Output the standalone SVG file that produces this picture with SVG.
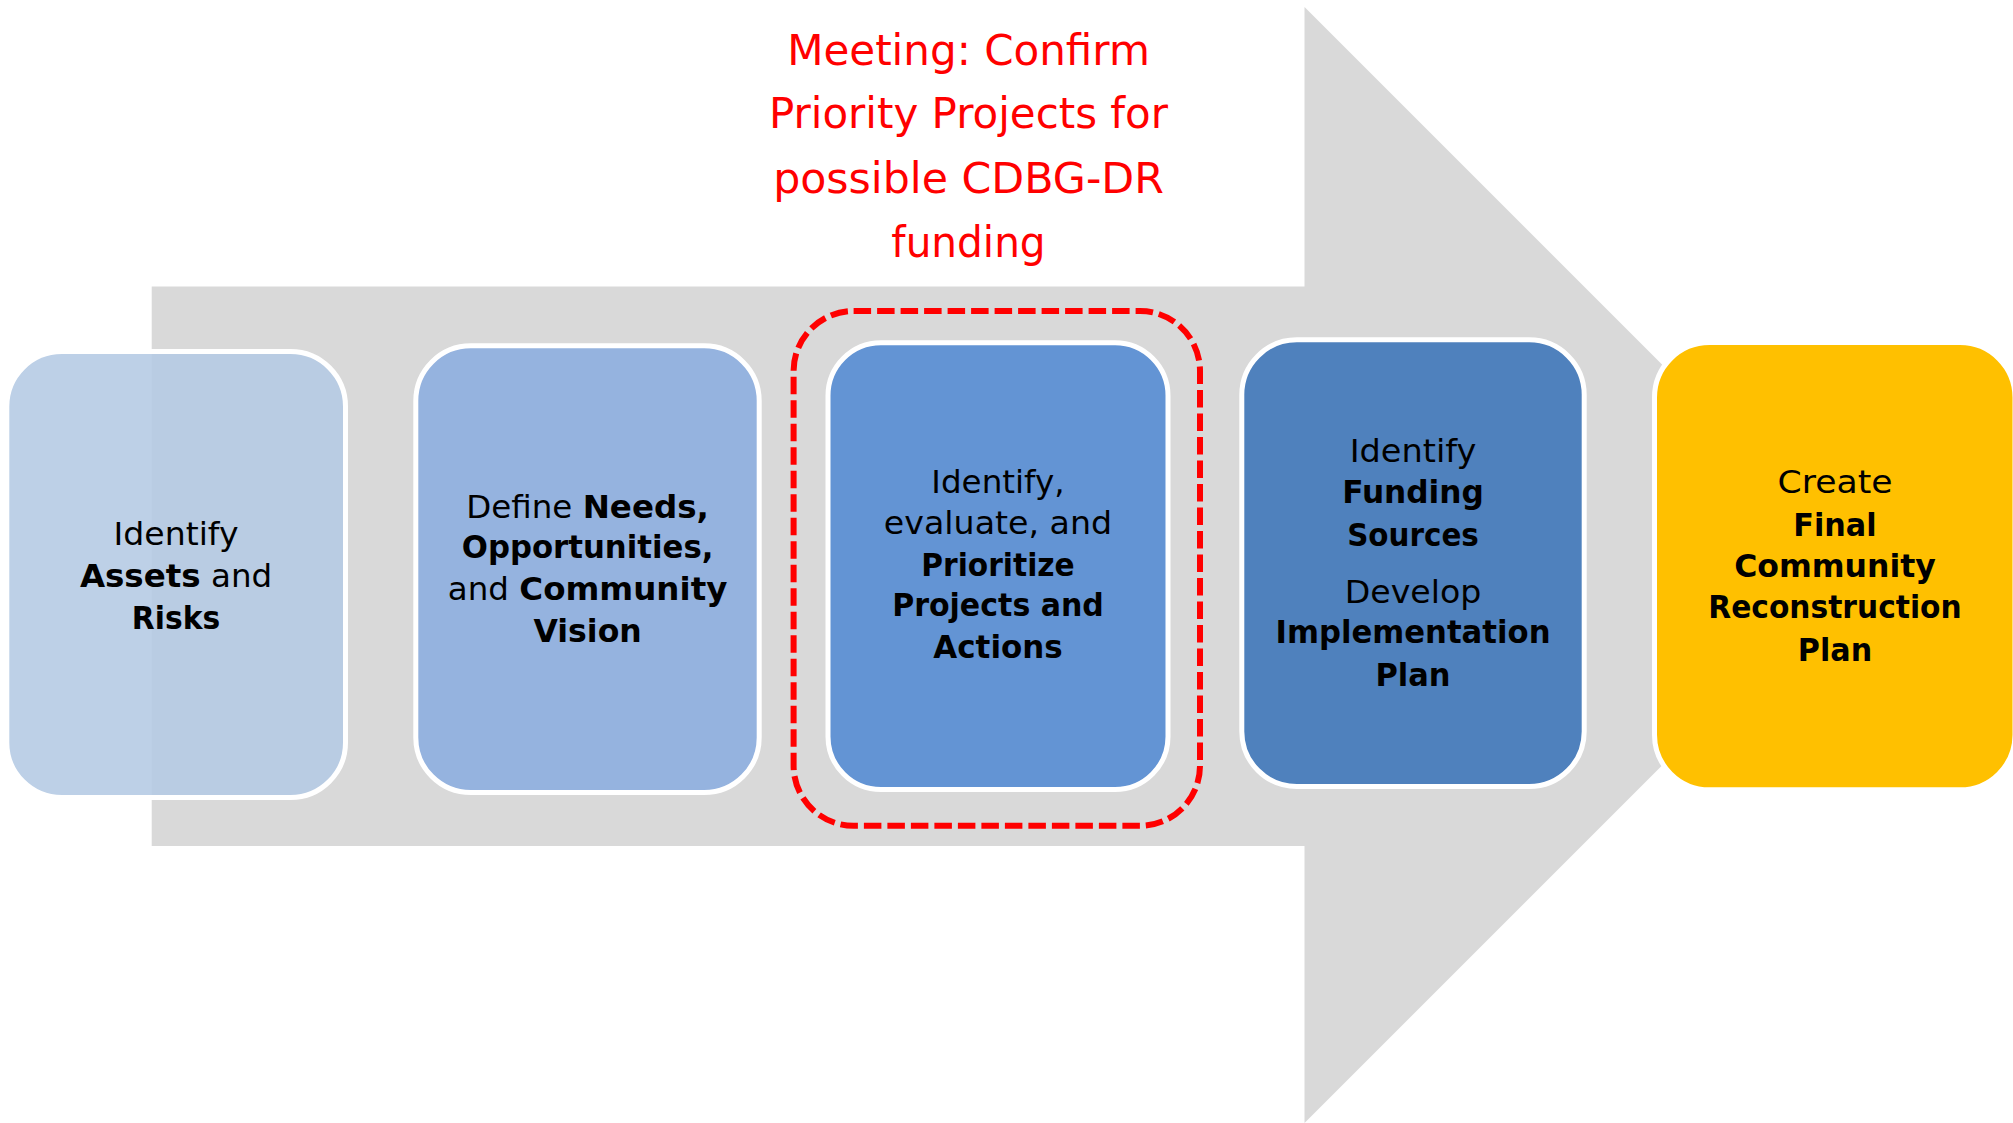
<svg xmlns="http://www.w3.org/2000/svg" width="2013" height="1123" viewBox="0 0 2013 1123">
  <style>
    .box { stroke: #FFFFFF; stroke-width: 5; }
    .t { font-family: "DejaVu Sans", "Liberation Sans", sans-serif; font-size: 32.5px; fill: #000000; text-anchor: middle; }
    .b { font-weight: bold; }
    .red { font-family: "DejaVu Sans", "Liberation Sans", sans-serif; font-size: 42px; fill: #FF0000; text-anchor: middle; }
  </style>
  <rect x="0" y="0" width="2013" height="1123" fill="#FFFFFF"/>
  <g id="connectors">
    <polygon id="flow-arrow" points="151.7,286.5 1304.5,286.5 1304.5,7 1862.5,565 1304.5,1123 1304.5,846 151.7,846" fill="#D9D9D9"/>
  </g>
  <g id="meeting-label">
    <text class="red" x="968.5" y="65" textLength="362.7" lengthAdjust="spacingAndGlyphs">Meeting: Confirm</text>
    <text class="red" x="968.5" y="128.3" textLength="399" lengthAdjust="spacingAndGlyphs">Priority Projects for</text>
    <text class="red" x="968.5" y="193.3" textLength="390.7" lengthAdjust="spacingAndGlyphs">possible CDBG-DR</text>
    <text class="red" x="968.5" y="257.3" textLength="154.3" lengthAdjust="spacingAndGlyphs">funding</text>
  </g>
  <g id="node1">
    <rect class="box" x="6.8" y="351.5" width="338.7" height="446" rx="55" fill="#B4C9E4" fill-opacity="0.88"/>
    <text class="t" x="176" y="545.4" textLength="125" lengthAdjust="spacingAndGlyphs">Identify</text>
    <text class="t" x="176" y="586.7"><tspan class="b">Assets</tspan> and</text>
    <text class="t b" x="176" y="629" textLength="88.3" lengthAdjust="spacingAndGlyphs">Risks</text>
  </g>
  <g id="node2">
    <rect class="box" x="415.8" y="345.8" width="343.4" height="446.7" rx="55" fill="#95B3DF"/>
    <text class="t" x="587.6" y="518.3">Define <tspan class="b">Needs,</tspan></text>
    <text class="t b" x="587.6" y="558.3" textLength="251.7" lengthAdjust="spacingAndGlyphs">Opportunities,</text>
    <text class="t" x="587.6" y="600">and <tspan class="b">Community</tspan></text>
    <text class="t b" x="587.6" y="642" textLength="108.3" lengthAdjust="spacingAndGlyphs">Vision</text>
  </g>
  <g id="node3">
    <rect class="box" x="828" y="342.8" width="340" height="446.7" rx="53" fill="#6394D4"/>
    <text class="t" x="998" y="493.2" textLength="133.3" lengthAdjust="spacingAndGlyphs">Identify,</text>
    <text class="t" x="998" y="534" textLength="228.3" lengthAdjust="spacingAndGlyphs">evaluate, and</text>
    <text class="t b" x="998" y="575.6" textLength="153.3" lengthAdjust="spacingAndGlyphs">Prioritize</text>
    <text class="t b" x="998" y="615.8" textLength="211.7" lengthAdjust="spacingAndGlyphs">Projects and</text>
    <text class="t b" x="998" y="658.4" textLength="129.3" lengthAdjust="spacingAndGlyphs">Actions</text>
  </g>
  <g id="meeting-highlight">
    <rect x="793.6" y="311" width="406.4" height="514.8" rx="60" fill="none" stroke="#FF0000" stroke-width="6" stroke-dasharray="17.5 6"/>
  </g>
  <g id="node4">
    <rect class="box" x="1241.8" y="339.8" width="342.4" height="446.7" rx="55" fill="#4F81BD"/>
    <text class="t" x="1413" y="462.3" textLength="126.7" lengthAdjust="spacingAndGlyphs">Identify</text>
    <text class="t b" x="1413" y="503.3" textLength="141.7" lengthAdjust="spacingAndGlyphs">Funding</text>
    <text class="t b" x="1413" y="546" textLength="131.7" lengthAdjust="spacingAndGlyphs">Sources</text>
    <text class="t" x="1413" y="603.3" textLength="136.7" lengthAdjust="spacingAndGlyphs">Develop</text>
    <text class="t b" x="1413" y="643.3" textLength="275" lengthAdjust="spacingAndGlyphs">Implementation</text>
    <text class="t b" x="1413" y="686" textLength="75" lengthAdjust="spacingAndGlyphs">Plan</text>
  </g>
  <g id="node5">
    <rect class="box" x="1654.5" y="342.5" width="360.5" height="447.3" rx="55" fill="#FFC000"/>
    <text class="t" x="1835" y="493.3" textLength="115" lengthAdjust="spacingAndGlyphs">Create</text>
    <text class="t b" x="1835" y="536" textLength="83.3" lengthAdjust="spacingAndGlyphs">Final</text>
    <text class="t b" x="1835" y="577.3" textLength="201.7" lengthAdjust="spacingAndGlyphs">Community</text>
    <text class="t b" x="1835" y="618.3" textLength="253.3" lengthAdjust="spacingAndGlyphs">Reconstruction</text>
    <text class="t b" x="1835" y="660.7" textLength="74.3" lengthAdjust="spacingAndGlyphs">Plan</text>
  </g>
</svg>
